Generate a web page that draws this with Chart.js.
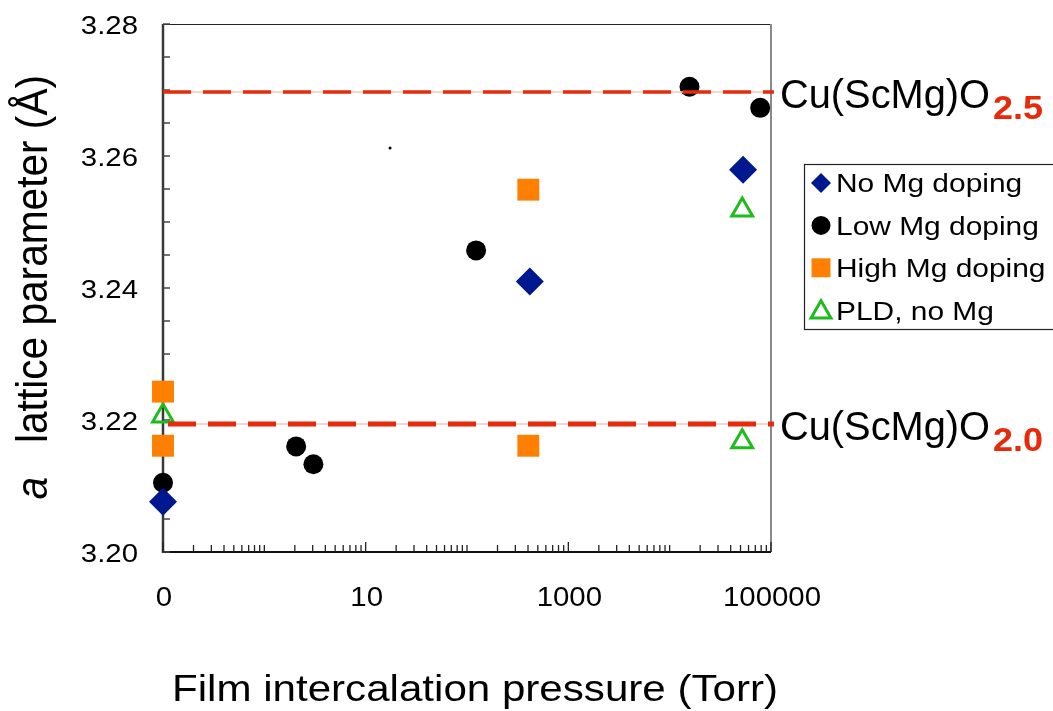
<!DOCTYPE html>
<html>
<head>
<meta charset="utf-8">
<title>Lattice parameter vs intercalation pressure</title>
<script src="https://cdn.jsdelivr.net/npm/chart.js@4.4.1/dist/chart.umd.min.js"></script>
<style>
  html, body { margin: 0; padding: 0; background: #fff; }
  #wrap { width: 1053px; height: 711px; }
</style>
</head>
<body>
<div id="wrap"><canvas id="latticeChart" width="1053" height="711"></canvas></div>
<script>
// pressure (Torr) and a-axis lattice parameter (Å) for each film series
const noMgPressure = [0.1, 417, 53000];
const noMgLattice = [3.2076, 3.2410, 3.2579];
const lowMgPressure = [0.1, 2.06, 3.05, 123, 15700, 78200];
const lowMgLattice = [3.2105, 3.2160, 3.2133, 3.2457, 3.2705, 3.2673];
const highMgPressure = [0.1, 0.1, 403, 403];
const highMgLattice = [3.2243, 3.2161, 3.2549, 3.2161];
const pldPressure = [0.1, 52000, 52000];
const pldLattice = [3.2206, 3.2518, 3.2167];
const strayPressure = [17.4];
const strayLattice = [3.2612];

// reference levels for the two oxygen contents
const refSubscripts = ['2.5', '2.0'];
const refLattice = [3.2697, 3.2194];
const refStart = [0.1, 0.112];
const refEnd = 107000;

const seriesNames = ['No Mg doping', 'Low Mg doping', 'High Mg doping', 'PLD, no Mg'];
const xTickLabels = ['0', '10', '1000', '100000'];
const xTickValues = [0.1, 10, 1000, 100000];
const yTickLabels = ['3.20', '3.22', '3.24', '3.26', '3.28'];
const yTickValues = [3.20, 3.22, 3.24, 3.26, 3.28];

const FONT = "'Liberation Sans', Arial, Helvetica, sans-serif";
const RED = '#e62a0a';

const pts = (xs, ys) => xs.map((x, i) => ({ x: x, y: ys[i] }));

// minor log ticks: 1..9 in every decade
const xMinorTicks = [];
for (let e = -1; e <= 4; e++) {
  for (let m = 1; m <= 9; m++) xMinorTicks.push(Number((m * Math.pow(10, e)).toPrecision(6)));
}
xMinorTicks.push(100000);

// y ticks every 0.005
const yMinorTicks = [];
for (let i = 0; i <= 16; i++) yMinorTicks.push(Number((3.20 + i * 0.005).toFixed(3)));

const markerStyles = [
  { pointStyle: 'rectRot', pointRadius: 14, backgroundColor: '#00188f', borderColor: '#00188f', borderWidth: 0 },
  { pointStyle: 'circle', pointRadius: 10, backgroundColor: '#000000', borderColor: '#000000', borderWidth: 0 },
  { pointStyle: 'rect', pointRadius: 15.5, backgroundColor: '#ff7f00', borderColor: '#ff7f00', borderWidth: 0 },
  { pointStyle: 'triangle', pointRadius: 12, backgroundColor: 'rgba(0,0,0,0)', borderColor: '#1cbc1c', borderWidth: 3 }
];

const seriesData = [
  pts(noMgPressure, noMgLattice),
  pts(lowMgPressure, lowMgLattice),
  pts(highMgPressure, highMgLattice),
  pts(pldPressure, pldLattice)
];

const datasets = [];
// dashed reference lines (drawn above the markers)
refLattice.forEach((v, i) => {
  datasets.push({
    type: 'line', label: 'ref' + i, order: 0,
    data: [{ x: refStart[i], y: v }, { x: refEnd, y: v }],
    borderColor: RED, borderWidth: i === 0 ? 3.5 : 5, borderDash: [28, 12],
    borderCapStyle: 'butt', pointRadius: 0, clip: false
  });
});
refLattice.forEach((v, i) => {
  datasets.push({
    type: 'line', label: 'refShade' + i, order: 0,
    data: [{ x: refStart[i], y: v }, { x: refEnd, y: v }],
    borderColor: '#f6c8c1', borderWidth: 1.5, pointRadius: 0, clip: false
  });
});
seriesData.forEach((d, i) => {
  datasets.push(Object.assign({ label: seriesNames[i], data: d, order: 1, clip: false }, markerStyles[i]));
});
datasets.push({
  label: 'stray', data: pts(strayPressure, strayLattice), order: 1,
  pointStyle: 'circle', pointRadius: 1.5, backgroundColor: '#000', borderWidth: 0
});

function stretchText(ctx, text, x, y, font, color, sx, align) {
  ctx.save();
  ctx.font = font;
  ctx.fillStyle = color;
  ctx.textBaseline = 'alphabetic';
  ctx.textAlign = align || 'left';
  ctx.translate(x, y);
  ctx.scale(sx, 1);
  ctx.fillText(text, 0, 0);
  ctx.restore();
}

function fitWidth(ctx, text, font, width) {
  ctx.save();
  ctx.font = font;
  const w = ctx.measureText(text).width;
  ctx.restore();
  return width / w;
}

// axes box and inward tick marks
const framePlugin = {
  id: 'frame',
  beforeDatasetsDraw(chart) {
    const ctx = chart.ctx;
    const ca = chart.chartArea;
    const xs = chart.scales.x;
    const ys = chart.scales.y;
    ctx.save();
    ctx.lineCap = 'butt';

    ctx.strokeStyle = '#222';
    ctx.lineWidth = 1;
    ctx.beginPath();
    ctx.moveTo(ca.left, ca.top + 0.5);
    ctx.lineTo(ca.right, ca.top + 0.5);
    ctx.stroke();

    ctx.strokeStyle = '#8a8a8a';
    ctx.lineWidth = 2;
    ctx.beginPath();
    ctx.moveTo(ca.right, ca.top);
    ctx.lineTo(ca.right, ca.bottom);
    ctx.stroke();

    ctx.strokeStyle = '#3a3a3a';
    ctx.lineWidth = 2.5;
    ctx.beginPath();
    ctx.moveTo(ca.left, ca.top);
    ctx.lineTo(ca.left, ca.bottom + 1);
    ctx.stroke();

    ctx.strokeStyle = '#111';
    ctx.lineWidth = 2;
    ctx.beginPath();
    ctx.moveTo(ca.left, ca.bottom);
    ctx.lineTo(ca.right, ca.bottom);
    ctx.stroke();

    ctx.strokeStyle = '#444';
    ctx.lineWidth = 1.5;
    ys.ticks.forEach(t => {
      const y = ys.getPixelForValue(t.value);
      ctx.beginPath();
      ctx.moveTo(ca.left, y);
      ctx.lineTo(ca.left + 7, y);
      ctx.stroke();
    });

    ctx.strokeStyle = '#222';
    ctx.lineWidth = 1.3;
    xs.ticks.forEach(t => {
      const x = xs.getPixelForValue(t.value);
      const len = xTickValues.includes(t.value) ? 10 : 7;
      ctx.beginPath();
      ctx.moveTo(x, ca.bottom);
      ctx.lineTo(x, ca.bottom - len);
      ctx.stroke();
    });
    ctx.restore();
  }
};

// tick labels, axis titles, reference labels and legend
const textPlugin = {
  id: 'texts',
  afterDraw(chart) {
    const ctx = chart.ctx;
    const ca = chart.chartArea;
    const xs = chart.scales.x;
    const ys = chart.scales.y;

    yTickValues.forEach((v, i) => {
      const y = ys.getPixelForValue(v);
      stretchText(ctx, yTickLabels[i], 138, y + 9.5, '26px ' + FONT, '#000', 1.13, 'right');
    });
    xTickValues.forEach((v, i) => {
      const x = xs.getPixelForValue(v);
      stretchText(ctx, xTickLabels[i], x + 1, 606, '28px ' + FONT, '#000', 1.05, 'center');
    });

    const xTitle = 'Film intercalation pressure (Torr)';
    const xFont = '36px ' + FONT;
    stretchText(ctx, xTitle, 172, 701, xFont, '#000', fitWidth(ctx, xTitle, xFont, 606), 'left');

    // rotated y title: italic "a" then the rest
    const yTitle = 'lattice parameter (Å)';
    const yFont = '40px ' + FONT;
    const along = fitWidth(ctx, yTitle, yFont, 368);
    ctx.save();
    ctx.translate(47, 443);
    ctx.rotate(-Math.PI / 2);
    ctx.scale(along, 1.1);
    ctx.fillStyle = '#000';
    ctx.textBaseline = 'alphabetic';
    ctx.font = yFont;
    ctx.textAlign = 'left';
    ctx.fillText(yTitle, 0, 0);
    ctx.font = 'italic 40px ' + FONT;
    ctx.textAlign = 'right';
    ctx.fillText('a', -34 / along, 0);
    ctx.restore();

    const refName = 'Cu(ScMg)O';
    const refFont = '40px ' + FONT;
    const subFont = 'bold 33px ' + FONT;
    refLattice.forEach((v, i) => {
      const y = ys.getPixelForValue(v);
      stretchText(ctx, refName, 780, y + 16, refFont, '#000', fitWidth(ctx, refName, refFont, 210), 'left');
      stretchText(ctx, refSubscripts[i], 993, y + 27, subFont, RED, fitWidth(ctx, refSubscripts[i], subFont, 50), 'left');
    });

    // legend box
    ctx.save();
    ctx.strokeStyle = '#222';
    ctx.lineWidth = 1.2;
    ctx.strokeRect(804.5, 164.5, 270, 165);
    ctx.restore();
    const legendMarkers = [
      { pointStyle: 'rectRot', radius: 10 },
      { pointStyle: 'circle', radius: 9.5 },
      { pointStyle: 'rect', radius: 13.4 },
      { pointStyle: 'triangle', radius: 11.5 }
    ];
    seriesNames.forEach((name, i) => {
      const cy = 183 + i * 42.4;
      const st = markerStyles[i];
      ctx.save();
      ctx.fillStyle = st.backgroundColor;
      ctx.strokeStyle = st.borderColor;
      ctx.lineWidth = st.borderWidth;
      Chart.helpers.drawPoint(ctx, {
        pointStyle: legendMarkers[i].pointStyle,
        radius: legendMarkers[i].radius,
        rotation: 0,
        borderWidth: st.borderWidth
      }, 821, cy + (i === 3 ? 2 : 0));
      ctx.restore();
      stretchText(ctx, name, 836, cy + 9.3, '26px ' + FONT, '#000', 1.15, 'left');
    });
  }
};

const ctx = document.getElementById('latticeChart').getContext('2d');
const latticeChart = new Chart(ctx, {
  type: 'scatter',
  data: { datasets: datasets },
  options: {
    responsive: false,
    animation: false,
    events: [],
    layout: { padding: { left: 0, right: 282, top: 24, bottom: 0 } },
    plugins: { legend: { display: false }, tooltip: { enabled: false } },
    scales: {
      x: {
        type: 'logarithmic',
        min: 0.1,
        max: 100000,
        afterBuildTicks: s => { s.ticks = xMinorTicks.map(v => ({ value: v })); },
        afterFit: s => { s.height = 711 - 552; },
        ticks: { display: false },
        grid: { display: false, drawTicks: false },
        border: { display: false }
      },
      y: {
        type: 'linear',
        min: 3.20,
        max: 3.28,
        afterBuildTicks: s => { s.ticks = yMinorTicks.map(v => ({ value: v })); },
        afterFit: s => { s.width = 163; },
        ticks: { display: false },
        grid: { display: false, drawTicks: false },
        border: { display: false }
      }
    }
  },
  plugins: [framePlugin, textPlugin]
});
</script>
</body>
</html>
